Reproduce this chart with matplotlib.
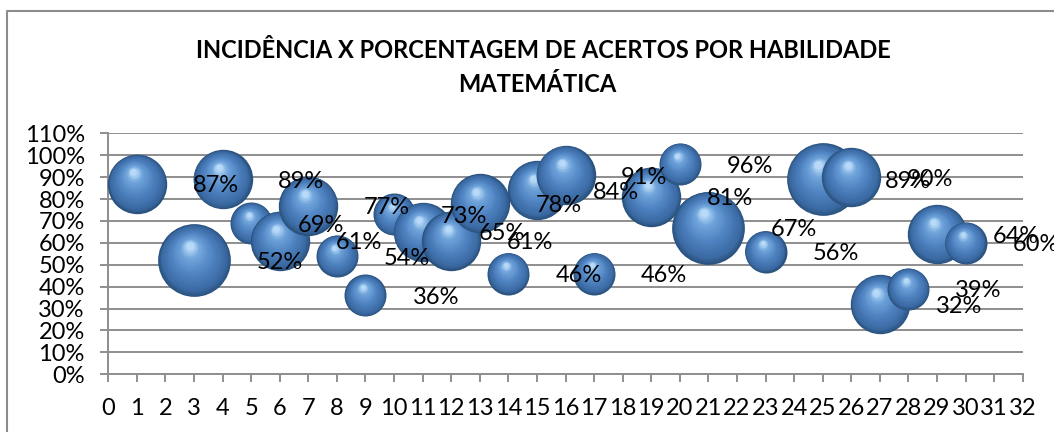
import numpy as np
import matplotlib
matplotlib.use("Agg")
import matplotlib.pyplot as plt
from matplotlib.colors import LinearSegmentedColormap
from matplotlib.lines import Line2D
from matplotlib.transforms import offset_copy
from matplotlib.ticker import PercentFormatter

# habilidade (x), porcentagem de acertos (y), incidência (tamanho da bolha)
habilidade = [1, 3, 4, 5, 6, 7, 8, 9, 10, 11, 12, 13, 14, 15, 16, 17,
              19, 20, 21, 23, 25, 26, 27, 28, 29, 30]
acertos = [0.87, 0.52, 0.89, 0.69, 0.61, 0.77, 0.54, 0.36, 0.73, 0.65, 0.61,
           0.78, 0.46, 0.84, 0.91, 0.46, 0.81, 0.96, 0.67, 0.56, 0.89, 0.90,
           0.32, 0.39, 0.64, 0.60]
incidencia = [2, 3, 2, 1, 2, 2, 1, 1, 1, 2, 2, 2, 1, 2, 2, 1,
              2, 1, 3, 1, 3, 2, 2, 1, 2, 1]

titulo = "INCIDÊNCIA X PORCENTAGEM DE ACERTOS POR HABILIDADE\nMATEMÁTICA"

DPI = 100
PX = 72.0 / DPI          # points per pixel
R1 = 21.0                # bubble radius (px) for incidence 1

plt.rcParams["font.family"] = ["Lato", "DejaVu Sans"]

fig = plt.figure(figsize=(10.54, 4.32), dpi=DPI)
ax = fig.add_axes([108.3 / 1054, 1 - 374.3 / 432, (1022.7 - 108.3) / 1054, (374.3 - 133.3) / 432])

grid_color = "#8E8E8E"

# sphere-like shading: stacked circles, shrinking and moving toward the highlight
shade = LinearSegmentedColormap.from_list(
    "sphere",
    [(0.0, "#2B5380"), (0.12, "#3B6AA3"), (0.45, "#4E82C1"),
     (0.8, "#70A4DB"), (1.0, "#B8DAF8")])
N = 32
z = 3
for x, y, s in zip(habilidade, acertos, incidencia):
    r_pt = R1 * np.sqrt(s) * PX
    for i in range(N):
        t = i / (N - 1)
        rf = 1 - 0.9 * t
        tr = offset_copy(ax.transData, fig=fig, x=-0.12 * t * r_pt,
                         y=0.40 * t * r_pt, units="points")
        ax.scatter([x], [y], s=(2 * r_pt * rf) ** 2, color=shade(t),
                   linewidths=0, transform=tr, zorder=z, clip_on=False)
        z += 1

# data labels (to the right of each bubble)
for x, y, s in zip(habilidade, acertos, incidencia):
    r_px = R1 * np.sqrt(s)
    ax.annotate(f"{y:.0%}", (x, y), xytext=((r_px + 26) * PX, -1.5),
                textcoords="offset points", ha="left", va="center",
                fontsize=17, color="black", zorder=z + 10,
                annotation_clip=False)

ax.set_xlim(0, 32)
ax.set_ylim(0, 1.1)
ax.set_xticks(np.arange(0, 33, 1))
ax.set_yticks(np.arange(0, 1.11, 0.1))
ax.yaxis.set_major_formatter(PercentFormatter(1.0, decimals=0))
ax.tick_params(axis="both", labelsize=17, colors=grid_color, labelcolor="black",
               length=6, width=1.4)
ax.tick_params(axis="y", pad=11)
ax.tick_params(axis="x", pad=11)
ax.grid(axis="y", color=grid_color, linewidth=1.4)
ax.set_axisbelow(True)
for side in ["top", "right"]:
    ax.spines[side].set_visible(False)
for side in ["left", "bottom"]:
    ax.spines[side].set_color(grid_color)
    ax.spines[side].set_linewidth(1.4)

linha1, linha2 = titulo.split("\n")
fig.text(0.5155, 1 - 50 / 432, linha1, ha="center", va="center",
         fontsize=17, fontweight="bold")
fig.text(0.51, 1 - 85 / 432, linha2, ha="center", va="center",
         fontsize=17, fontweight="bold")

# chart area border (only left and top edges are visible)
fig.add_artist(Line2D([7 / 1054, 7 / 1054, 1.0], [0.0, 1 - 11 / 432, 1 - 11 / 432],
                      transform=fig.transFigure, color="#8C8C8C", linewidth=1.5))

fig.savefig("out.png", dpi=DPI)
